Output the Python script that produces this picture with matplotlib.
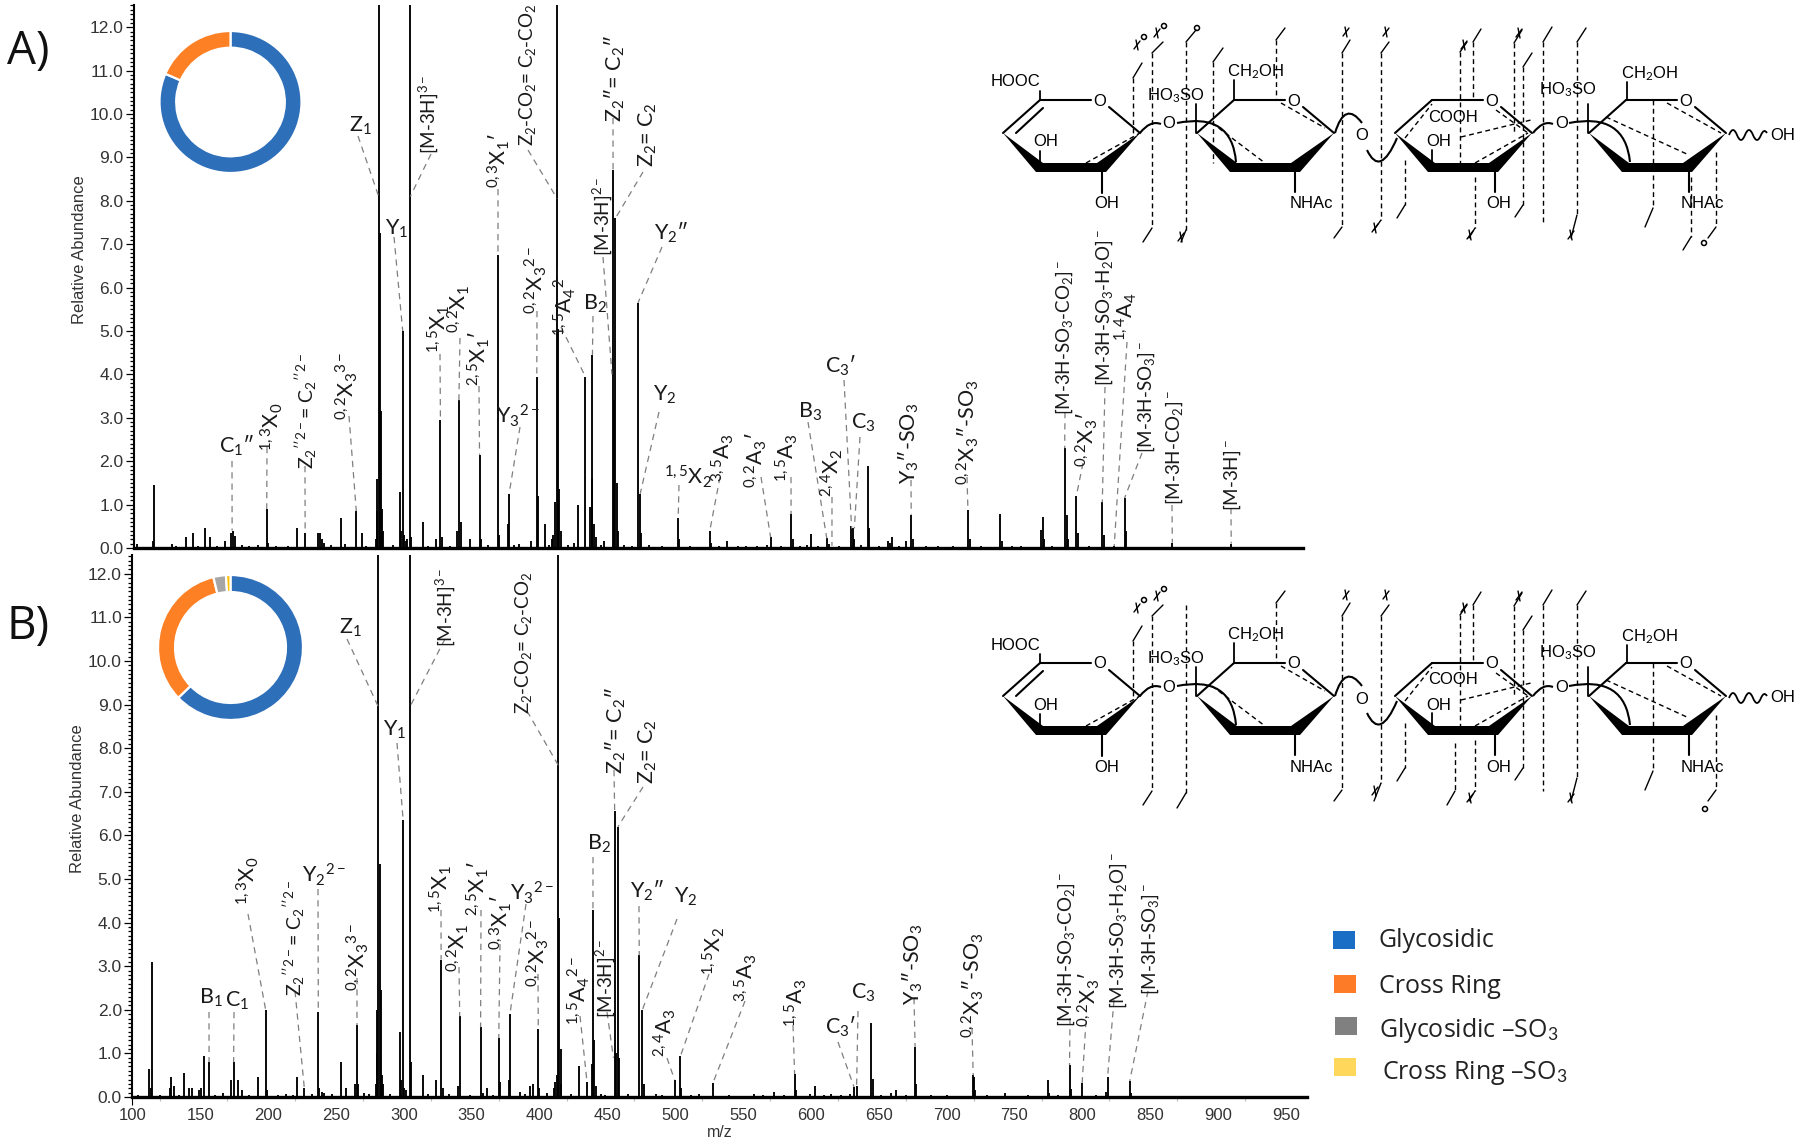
import matplotlib
matplotlib.use("Agg")
import matplotlib.pyplot as plt
from matplotlib.patches import Polygon, PathPatch, Rectangle, Circle
from matplotlib.path import Path
from matplotlib.ticker import MultipleLocator

plt.rcParams['mathtext.fontset'] = 'custom'
plt.rcParams['mathtext.rm'] = 'Lato'
plt.rcParams['mathtext.it'] = 'Lato:italic'
plt.rcParams['mathtext.bf'] = 'Lato:bold'
plt.rcParams['mathtext.default'] = 'rm'

W, H = 1800, 1144

# spectrum A, off-scale peaks get a nominal height (they are cut by the axis)
a_mz = [103.5, 116, 115.3, 129, 139.3, 144.5, 153.3, 157.4, 168.5, 172.8, 174.3, 175.7, 192.3, 199, 199.6, 221.5, 227.3,
        237, 238.4, 240, 241.3, 253.5, 257, 265, 269.2, 279.5, 280, 280.6, 281.5, 282.6, 283.2, 284, 284.8, 297.2, 298.2, 299.2,
        300.4, 301.8, 302.5, 304.8, 305.5, 313.8, 323.7, 327, 327.8, 339.4, 340.6, 341.8, 348.5, 355.8, 356.6, 369.4, 370.1, 376.7,
        377.6, 385, 394, 398, 399, 404, 409.5, 410.2, 411.7, 412.9, 413.7, 414.6, 415.5, 425.4, 428.6, 433.8, 437.3, 438.5,
        439, 440.5, 441.3, 447.5, 454.2, 455, 455.9, 456.8, 458.2, 472.6, 474.2, 475, 490, 502.2, 503, 525.5, 526.5, 538.3,
        552, 568, 570.3, 585.4, 586.5, 597, 600.2, 611.7, 613, 629.8, 631, 632, 642, 642.6, 656.8, 658, 660,
        670.3, 673.9, 675, 715.7, 717, 739.3, 740.5, 769.6, 771.2, 772, 787, 788.4, 789.5, 795.6, 796.6, 814.7,
        815.7, 823.5, 831.1, 832, 866.3, 909.7, 132, 148, 162, 181, 186, 206, 215, 246, 272, 292, 318, 334, 362, 381, 407,
        421, 445, 462, 468, 481, 511, 532, 546, 560, 578, 592, 605, 621, 637, 650, 665, 685, 694, 705, 725, 748, 755, 778, 805, 845, 875]
a_h = [0.1, 1.45, 0.15, 0.1, 0.25, 0.35, 0.45, 0.25, 0.15, 0.35, 0.4, 0.28, 0.07, 0.9, 0.12, 0.45, 0.35,
       0.35, 0.35, 0.2, 0.12, 0.7, 0.1, 0.85, 0.35, 0.2, 0.85, 1.6, 60, 7.25, 3.15, 0.9, 0.4, 1.3, 0.4, 5.0,
       0.3, 0.15, 0.2, 100, 0.25, 0.6, 0.2, 2.95, 0.25, 0.4, 3.4, 0.6, 0.2, 2.15, 0.2, 6.75, 0.3, 0.55,
       1.25, 0.1, 0.15, 3.95, 1.2, 0.55, 0.2, 0.3, 1.05, 40, 5.05, 1.35, 0.4, 0.12, 1.0, 3.95, 0.95, 1.6,
       4.45, 0.55, 0.25, 0.15, 8.7, 3.4, 7.6, 1.5, 0.4, 5.65, 1.25, 0.35, 0.05, 0.7, 0.2, 0.4, 0.12, 0.15,
       0.05, 0.08, 0.25, 0.78, 0.2, 0.08, 0.32, 0.22, 0.1, 0.5, 0.45, 0.2, 1.9, 0.45, 0.15, 0.12, 0.25,
       0.15, 0.77, 0.2, 0.87, 0.2, 0.78, 0.15, 0.42, 0.72, 0.2, 2.3, 0.75, 0.2, 1.2, 0.35, 1.05,
       0.3, 0.05, 1.15, 0.4, 0.12, 0.1, 0.04, 0.05, 0.04, 0.06, 0.05, 0.04, 0.04, 0.06, 0.05, 0.07, 0.05, 0.05, 0.06, 0.06, 0.08,
       0.06, 0.08, 0.07, 0.05, 0.06, 0.05, 0.05, 0.04, 0.05, 0.05, 0.05, 0.05, 0.05, 0.06, 0.05, 0.05, 0.05, 0.04, 0.04, 0.04, 0.04, 0.04, 0.05, 0.04, 0.03, 0.03]

# spectrum B
b_mz = [112.5, 113.8, 114.6, 127.7, 128.8, 130.6, 137.9, 141.7, 143.7, 149, 150.4, 152.4, 156.5, 167, 172.5, 174.6,
        177.5, 180.4, 192.6, 198.2, 199, 213.3, 221.5, 226.7, 237, 237.8, 239.8, 241, 253.5, 257.6, 264, 265.5, 266.2,
        270.4, 279.5, 280, 280.6, 281.2, 282.3, 283.2, 284, 284.8, 297.2, 298.2, 299.5, 300.4, 301.5, 304.5, 305.4, 314.4, 323.4, 327.5, 328.6,
        339.7, 341.2, 356.6, 358, 361.6, 370, 370.8, 378.2, 377.6, 385.8, 392.7, 395.4, 399.1, 400, 405.6, 410.5, 411.7,
        412.9, 414, 414.6, 415.5, 416.2, 429.4, 435, 438.5, 439.4, 440.3, 441.5, 448, 455.4, 456.6, 457.8, 458.6, 473.5,
        475.8, 476.8, 485.7, 499.5, 503.8, 504.5, 517.6, 527.8, 558, 572.9, 588, 588.8, 599.2, 602.8, 614.7, 628.8,
        631.8, 633.7, 644.6, 645.6, 659, 662.7, 676.8, 677.8, 688.4, 719.6, 720.2, 721, 743, 774.9, 775.6, 790.6,
        791.5, 799.9, 817.6, 818.6, 835, 836, 862, 104, 120, 134, 161, 186, 207, 218, 232, 247, 274, 290, 318, 333, 349, 366,
        389, 423, 445, 465, 490, 512, 540, 565, 580, 610, 622, 652, 670, 700, 730, 760, 782, 810, 850, 900]
b_h = [0.65, 0.2, 3.1, 0.2, 0.45, 0.25, 0.55, 0.2, 0.2, 0.15, 0.2, 0.95, 0.8, 0.1, 0.4, 0.8,
       0.4, 0.15, 0.45, 2.0, 0.15, 0.08, 0.45, 0.2, 1.95, 0.2, 0.12, 0.1, 0.8, 0.2, 0.3, 1.65, 0.3,
       0.1, 0.3, 1.0, 2.0, 60, 5.35, 2.45, 0.5, 0.3, 1.5, 0.4, 6.35, 0.2, 0.15, 100, 0.8, 0.5, 0.4, 3.15, 0.2,
       0.25, 1.85, 1.6, 0.1, 0.2, 1.35, 0.35, 1.9, 0.4, 0.12, 0.25, 0.3, 1.55, 0.2, 0.1, 0.2, 0.35,
       0.5, 40, 4.1, 1.1, 0.3, 0.7, 0.35, 0.75, 4.3, 1.3, 0.25, 0.05, 6.55, 1.0, 6.2, 0.9, 3.25,
       2.0, 0.3, 0.07, 0.4, 0.93, 0.2, 0.08, 0.32, 0.06, 0.12, 0.53, 0.15, 0.06, 0.25, 0.07, 0.06,
       0.23, 0.25, 1.7, 0.42, 0.1, 0.15, 1.15, 0.3, 0.05, 0.5, 0.45, 0.15, 0.1, 0.4, 0.1, 0.73,
       0.18, 0.32, 0.12, 0.45, 0.37, 0.1, 0.03, 0.04, 0.05, 0.05, 0.05, 0.05, 0.05, 0.05, 0.07, 0.06, 0.07, 0.06, 0.06, 0.06, 0.05, 0.05,
       0.06, 0.06, 0.07, 0.06, 0.05, 0.05, 0.05, 0.05, 0.04, 0.05, 0.05, 0.05, 0.05, 0.04, 0.04, 0.04, 0.04, 0.04, 0.03, 0.03]

# peak each label belongs to
a_label_text = ["C$_1$″", "$^{1,3}$X$_0$", "Z$_2{}^{\\prime\\prime 2-}$= C$_2{}^{\\prime\\prime 2-}$", "$^{0,2}$X$_3{}^{3-}$",
                "Z$_1$", "Y$_1$", "[M-3H]$^{3-}$", "$^{1,5}$X$_1$", "$^{0,2}$X$_1$", "$^{2,5}$X$_1$′", "$^{0,3}$X$_1$′",
                "Y$_3{}^{2-}$", "$^{0,2}$X$_3{}^{2-}$", "Z$_2$-CO$_2$= C$_2$-CO$_2$", "$^{1,5}$A$_4{}^{2-}$", "B$_2$",
                "[M-3H]$^{2-}$", "Z$_2$″= C$_2$″", "Z$_2$= C$_2$", "Y$_2$″", "Y$_2$", "$^{1,5}$X$_2$", "$^{3,5}$A$_3$",
                "$^{0,2}$A$_3$′", "$^{1,5}$A$_3$", "B$_3$", "$^{2,4}$X$_2$", "C$_3$′", "C$_3$", "Y$_3$″-SO$_3$",
                "$^{0,2}$X$_3$″-SO$_3$", "[M-3H-SO$_3$-CO$_2$]$^-$", "$^{0,2}$X$_3$′", "[M-3H-SO$_3$-H$_2$O]$^-$",
                "$^{1,4}$A$_4$", "[M-3H-SO$_3$]$^-$", "[M-3H-CO$_2$]$^-$", "[M-3H]$^-$"]
a_label_mz = [173.5, 199, 227.3, 265, 281.5, 299.2, 304.8, 327, 340.6, 355.8, 369.4, 377.6, 398, 413, 433.8, 439,
              453.4, 454.2, 456, 472.6, 474.2, 502.2, 525.5, 570.3, 585.4, 611.7, 615.5, 630, 632, 673.9, 715.7,
              787, 795.6, 814.7, 823.5, 831.1, 866.3, 909.7]
a_label_h = [0.4, 0.9, 0.35, 0.85, 8.1, 5.0, 8.1, 2.95, 3.4, 2.15, 6.75, 1.25, 3.95, 8.05, 3.95, 4.45,
             4.0, 8.7, 7.6, 5.65, 1.25, 0.7, 0.4, 0.25, 0.78, 0.22, 0.05, 0.45, 0.45, 0.77, 0.87,
             2.3, 1.2, 1.05, 0.05, 1.15, 0.12, 0.1]

b_label_text = ["B$_1$", "C$_1$", "$^{1,3}$X$_0$", "Z$_2{}^{\\prime\\prime 2-}$= C$_2{}^{\\prime\\prime 2-}$", "Y$_2{}^{2-}$",
                "$^{0,2}$X$_3{}^{3-}$", "Z$_1$", "Y$_1$", "[M-3H]$^{3-}$", "Z$_2$-CO$_2$= C$_2$-CO$_2$", "$^{1,5}$X$_1$",
                "$^{0,2}$X$_1$", "$^{2,5}$X$_1$′", "$^{0,3}$X$_1$′", "Y$_3{}^{2-}$", "$^{0,2}$X$_3{}^{2-}$", "$^{1,5}$A$_4{}^{2-}$",
                "[M-3H]$^{2-}$", "B$_2$", "Z$_2$″= C$_2$″", "Z$_2$= C$_2$", "Y$_2$″", "Y$_2$", "$^{2,4}$A$_3$",
                "$^{1,5}$X$_2$", "$^{3,5}$A$_3$", "$^{1,5}$A$_3$", "C$_3$′", "C$_3$", "Y$_3$″-SO$_3$",
                "$^{0,2}$X$_3$″-SO$_3$", "[M-3H-SO$_3$-CO$_2$]$^-$", "$^{0,2}$X$_3$′", "[M-3H-SO$_3$-H$_2$O]$^-$",
                "[M-3H-SO$_3$]$^-$"]
b_label_mz = [156.5, 174.6, 198.2, 226.7, 237, 265.5, 281.2, 299.5, 304.5, 414, 327.5, 341.2, 356.6, 370, 378.2,
              399.1, 435, 454.5, 439.4, 455.4, 457.8, 473.5, 475.8, 499.5, 503.8, 527.8, 588, 631.8, 633.7, 676.8,
              719.6, 790.6, 799.9, 818.6, 835]
b_label_h = [0.8, 0.8, 2.0, 0.2, 1.95, 1.65, 8.95, 6.35, 8.95, 7.6, 3.15, 1.85, 1.6, 1.35, 1.9,
             1.55, 0.35, 0.9, 4.3, 6.55, 6.2, 3.25, 2.0, 0.4, 0.93, 0.32, 0.53, 0.23, 0.25, 1.15,
             0.5, 0.73, 0.32, 0.45, 0.37]

# donut shares
a_pie = [81.5, 18.5]
a_pie_colors = ['#2e6fba', '#fd8024']
b_pie = [62.8, 33.4, 2.8, 1.0]
b_pie_colors = ['#2e6fba', '#fd8024', '#a6a6a6', '#ffc000']

legend_names = ["Glycosidic", "Cross Ring", "Glycosidic –SO$_3$", "Cross Ring –SO$_3$"]
legend_colors = ['#1b6ec6', '#fd7b27', '#808080', '#ffd75a']

# layout of label text: centre x, centre y, rotation, leader start x, leader start y (pixels)
a_label_pos = [(237, 446, 0, 232, 461), (272, 427, 90, 267, 447), (306, 411, 90, 305, 466), (347, 386, 90, 349, 416),
               (360, 126, 0, 358, 136), (397, 229, 0, 394, 237), (428, 114, 90, 431, 154), (439, 329, 90, 440, 354),
               (459, 309, 90, 460, 338), (479, 359, 90, 479, 386), (499, 161, 90, 498, 189), (518, 416, 0, 520, 427),
               (536, 280, 90, 537, 311), (528, 75, 90, 528, 150), (565, 302, 90, 561, 327), (595, 304, 0, 593, 316),
               (602, 216, 90, 603, 257), (615, 78, 90, 613, 118), (648, 135, 90, 643, 172), (671, 233, 0, 662, 247),
               (665, 395, 0, 659, 412), (688, 477, 0, 679, 485), (723, 458, 90, 720, 477), (756, 460, 90, 761, 477),
               (787, 458, 90, 791, 477), (810, 412, 0, 808, 422), (832, 473, 90, 832, 497), (841, 366, 0, 844, 380),
               (863, 423, 0, 860, 437), (909, 443, 90, 911, 480), (968, 432, 90, 967, 477), (1064, 337, 90, 1065, 412),
               (1087, 440, 90, 1083, 463), (1104, 308, 90, 1105, 387), (1126, 317, 90, 1127, 342),
               (1146, 397, 90, 1142, 453), (1174, 448, 90, 1172, 505), (1232, 475, 90, 1231, 508)]
b_label_pos = [(211, 998, 0, 209, 1012), (237, 1001, 0, 234, 1012), (248, 881, 90, 248, 914), (294, 938, 90, 295, 991),
               (324, 875, 0, 318, 889), (358, 957, 90, 357, 978), (350, 628, 0, 347, 639), (395, 730, 0, 397, 743),
               (445, 607, 90, 445, 639), (524, 643, 90, 527, 711), (441, 889, 90, 441, 910), (458, 948, 90, 459, 967),
               (478, 889, 90, 481, 910), (501, 923, 90, 500, 944), (532, 893, 0, 526, 904), (538, 953, 90, 538, 974),
               (579, 991, 90, 580, 1016), (605, 978, 90, 607, 1012), (599, 844, 0, 593, 857), (616, 730, 90, 614, 770),
               (648, 752, 90, 643, 787), (647, 891, 0, 639, 906), (686, 897, 0, 677, 919), (665, 1033, 90, 667, 1058),
               (714, 951, 90, 709, 974), (746, 978, 90, 745, 1001), (796, 1003, 90, 793, 1025), (841, 1027, 0, 838, 1042),
               (863, 993, 0, 858, 1011), (913, 964, 90, 914, 998), (973, 985, 90, 972, 1028), (1066, 949, 90, 1070, 1018),
               (1089, 1000, 90, 1086, 1021), (1118, 931, 90, 1114, 1000), (1150, 939, 90, 1148, 991)]

# cleavage lines of the structure: x, y top, y bottom, top tick end, bottom tick end (pixels, panel A frame)
a_cuts = [(1133, 78, 133, (1142, 63), None), (1152, 53, 228, (1163, 42), (1143, 242)),
          (1186, 42, 230, (1196, 30), (1181, 242)), (1213, 62, 163, (1223, 48), None), (1276, 40, 100, (1285, 28), None),
          (1342, 53, 227, (1350, 40), (1334, 238)), (1381, 53, 220, (1389, 42), (1374, 230)),
          (1405, 160, 205, None, (1397, 218)), (1460, 52, 163, (1467, 42), None), (1473, 42, 100, (1481, 29), None),
          (1475, 177, 228, None, (1469, 238)), (1514, 43, 133, (1522, 30), None), (1523, 67, 205, (1532, 53), (1515, 217)),
          (1543, 42, 225, (1552, 27), None), (1577, 42, 215, (1586, 28), (1571, 238)),
          (1653, 100, 208, None, (1645, 227)), (1691, 177, 237, None, (1683, 250)), (1716, 152, 227, None, (1708, 238))]
a_circles = [(1144, 37), (1164, 26), (1197, 28), (1704, 243)]
a_crosses = [(1137, 45), (1157, 33), (1181, 237), (1346, 32), (1386, 32), (1375, 228), (1464, 45), (1470, 235),
             (1519, 33), (1571, 235)]
b_cuts = [(1133, 78, 133, (1142, 63), None), (1152, 53, 228, (1163, 42), (1143, 242)),
          (1186, 42, 230, None, (1177, 245)), (1276, 40, 100, (1285, 28), None),
          (1342, 53, 227, (1350, 40), (1334, 238)), (1381, 53, 220, (1389, 42), (1374, 238)),
          (1405, 160, 205, None, (1397, 218)), (1460, 52, 163, (1467, 42), None), (1455, 180, 228, None, (1447, 242)),
          (1473, 42, 100, (1481, 29), None), (1475, 177, 228, None, (1469, 238)), (1514, 43, 133, (1522, 30), None),
          (1523, 67, 205, (1532, 53), (1515, 217)), (1543, 42, 228, (1552, 27), None),
          (1577, 42, 215, (1586, 28), (1571, 238)), (1653, 100, 208, None, (1645, 227)),
          (1716, 152, 227, None, (1708, 238))]
b_circles = [(1144, 37), (1164, 26), (1705, 246)]
b_crosses = [(1137, 45), (1157, 33), (1346, 32), (1386, 32), (1375, 228), (1464, 45), (1470, 235), (1519, 33), (1571, 235)]


def px_axes(x0, y0, x1, y1, **kw):
    return fig.add_axes([x0 / W, 1 - y1 / H, (x1 - x0) / W, (y1 - y0) / H], **kw)


def draw_spectrum(ax, mz, h):
    ax.vlines(mz, 0, h, color='black', linewidth=1.35)
    for s in ['top', 'right']:
        ax.spines[s].set_visible(False)
    ax.spines['left'].set_linewidth(1.5)
    ax.spines['bottom'].set_linewidth(2.4)
    ax.yaxis.set_major_locator(MultipleLocator(1))
    ax.yaxis.set_minor_locator(MultipleLocator(0.1))
    ax.tick_params(axis='y', which='major', length=6, width=0.9, pad=1.5, labelsize=12.5, labelcolor='#333333')
    ax.tick_params(axis='y', which='minor', length=3, width=0.9)
    ax.set_yticks([i for i in range(13)])
    ax.set_yticklabels([f"{i}.0" for i in range(13)], fontfamily='Liberation Sans')
    for lbl in ax.get_yticklabels():
        lbl.set_verticalalignment('center_baseline')
    ax.set_ylabel("Relative Abundance", fontfamily='Liberation Sans', fontsize=12, color='#333333')
    ax.yaxis.set_label_coords(-47 / ax.get_window_extent().width, 0.55)


def draw_labels(ax, texts, mz, h, pos):
    for t, m, v, (x, y, rot, lx, ly) in zip(texts, mz, h, pos):
        tip = overlay.transData.inverted().transform(ax.transData.transform((m, v)))
        overlay.plot([lx, tip[0]], [ly, tip[1]], color='#7f7f7f', linewidth=0.9, linestyle=(0, (5, 4)))
        # the long formulas have to stay smaller or they run into the top of the figure
        size = 13.5 if t.startswith('[') or 'CO$_2$=' in t else 15.5
        if '2-}$= C' in t:
            size = 14
        overlay.text(x, y, t, rotation=rot, ha='center', va='center', fontsize=size, color='#1a1a1a', family='Lato')


def curve(pts, dy, lw=1.5):
    # pts: start, ctrl, end, ctrl, end ...
    codes = [Path.MOVETO] + [Path.CURVE3] * (len(pts) - 1)
    verts = [(x, y + dy) for x, y in pts]
    overlay.add_patch(PathPatch(Path(verts, codes), fill=False, edgecolor='black', linewidth=lw))


def seg(x0, y0, x1, y1, dy, lw=1.3, ls='-'):
    overlay.plot([x0, x1], [y0 + dy, y1 + dy], color='black', linewidth=lw, linestyle=ls, solid_capstyle='round')


def chem(x, y, s, dy):
    overlay.text(x, y + dy, s, ha='center', va='center', fontsize=12, family='Liberation Sans', color='black')


def draw_ring(x0, dy):
    overlay.add_patch(Polygon([(x0, 133 + dy), (x0 + 40, 163 + dy), (x0 + 94, 163 + dy), (x0 + 137, 133 + dy),
                               (x0 + 103, 172 + dy), (x0 + 33, 172 + dy)], closed=True, color='black', linewidth=0))
    seg(x0, 133, x0 + 37, 100, dy, lw=1.5)
    seg(x0 + 37, 100, x0 + 88, 100, dy, lw=1.5)
    seg(x0 + 106, 107, x0 + 137, 133, dy, lw=1.5)
    chem(x0 + 97, 101, "O", dy)


def draw_structure(dy, cuts, circles, crosses):
    for x0 in [1003, 1197, 1395, 1589]:
        draw_ring(x0, dy)
    # double bond and substituents
    seg(1016, 133, 1043, 108, dy, lw=1.5)
    seg(1040, 100, 1040, 91, dy)
    chem(1015, 82, "HOOC", dy)
    seg(1040, 163, 1040, 151, dy)
    chem(1046, 142, "OH", dy)
    seg(1102, 172, 1102, 193, dy, lw=1.5)
    chem(1107, 204, "OH", dy)
    chem(1169, 124, "O", dy)
    curve([(1140, 133), (1150, 120), (1161, 124)], dy)
    chem(1176, 96, "HO$_3$SO", dy)
    seg(1196, 104, 1196, 133, dy)
    curve([(1177, 123), (1232, 112), (1236, 162)], dy)
    seg(1234, 100, 1234, 80, dy)
    chem(1255, 72, "CH$_2$OH", dy)
    seg(1295, 172, 1295, 192, dy, lw=1.5)
    chem(1311, 204, "NHAc", dy)
    curve([(1335, 133), (1345, 100), (1362, 123)], dy)
    chem(1362, 136, "O", dy)
    curve([(1367, 150), (1380, 178), (1397, 138)], dy)
    chem(1453, 117, "COOH", dy)
    chem(1439, 142, "OH", dy)
    seg(1432, 163, 1432, 150, dy)
    seg(1495, 172, 1495, 192, dy, lw=1.5)
    chem(1499, 204, "OH", dy)
    curve([(1533, 133), (1543, 120), (1553, 124)], dy)
    chem(1562, 124, "O", dy)
    chem(1568, 90, "HO$_3$SO", dy)
    seg(1588, 104, 1588, 133, dy)
    curve([(1569, 123), (1625, 112), (1630, 162)], dy)
    seg(1627, 100, 1627, 82, dy)
    chem(1649, 74, "CH$_2$OH", dy)
    seg(1689, 172, 1689, 192, dy, lw=1.5)
    chem(1702, 204, "NHAc", dy)
    curve([(1729, 135), (1733, 125), (1737, 135), (1741, 145), (1745, 135), (1749, 125), (1753, 135),
           (1757, 145), (1761, 135), (1764, 128), (1767, 133)], dy, lw=1.3)
    chem(1783, 135, "OH", dy)
    # dashed bonds inside the rings
    dash = (0, (3.5, 2.5))
    for x0, y0, x1, y1 in [(1086, 163, 1140, 133), (1212, 123, 1265, 163), (1281, 103, 1325, 128),
                           (1405, 138, 1432, 104), (1461, 137, 1531, 120), (1475, 163, 1528, 133),
                           (1496, 110, 1528, 133), (1606, 117, 1689, 155), (1667, 103, 1721, 133)]:
        seg(x0, y0, x1, y1, dy, lw=1.0, ls=dash)
    # cleavage marks
    for x, ytop, ybot, ttop, tbot in cuts:
        seg(x, ytop, x, ybot, dy, lw=1.0, ls=(0, (3.5, 2.5)))
        if ttop:
            seg(x, ytop, ttop[0], ttop[1], dy, lw=1.0)
        if tbot:
            seg(x, ybot, tbot[0], tbot[1], dy, lw=1.0)
    for x, y in crosses:
        seg(x - 3, y + 4, x + 3, y - 4, dy, lw=1.0)
        seg(x - 1, y - 5, x + 1, y + 5, dy, lw=1.0)
    for x, y in circles:
        overlay.add_patch(Circle((x, y + dy), 2.5, fill=False, edgecolor='black', linewidth=1.1))


fig = plt.figure(figsize=(W / 100, H / 100), dpi=100)

# panel A spectrum
ax_a = px_axes(134, 5, 1303, 548)
ax_a.set_xlim(101.2, 962.6)
ax_a.set_ylim(0, 543 / 43.4)
draw_spectrum(ax_a, a_mz, a_h)
ax_a.set_xticks([])

# panel B spectrum
ax_b = px_axes(132.4, 555, 1307, 1097)
ax_b.set_xlim(100, 965.6)
ax_b.set_ylim(0, 542 / 43.6)
draw_spectrum(ax_b, b_mz, b_h)
ax_b.set_xticks(range(100, 951, 50))
ax_b.set_xticklabels([str(v) for v in range(100, 951, 50)], fontfamily='Liberation Sans', fontsize=12, color='#333333')
ax_b.set_xticks(range(120, 951, 50), minor=True)
ax_b.tick_params(axis='x', which='major', length=0, pad=8)
ax_b.tick_params(axis='x', which='minor', length=3, width=0.8, color='#bbbbbb')
ax_b.xaxis.get_major_ticks()[0].tick1line.set_markersize(6)
ax_b.set_xlabel("m/z", fontfamily='Liberation Sans', fontsize=11.5, color='#333333')
ax_b.xaxis.set_label_coords((720 - 132.4) / (1307 - 132.4), -28 / 542)

# donuts
for box, vals, cols in [((159, 31, 302, 173), a_pie, a_pie_colors), ((157, 575, 304, 720), b_pie, b_pie_colors)]:
    ax_p = px_axes(*box)
    ax_p.pie(vals, colors=cols, startangle=90, counterclock=False, radius=1,
             wedgeprops=dict(width=0.235, edgecolor='white', linewidth=1.6))
    ax_p.set_xlim(-1, 1)
    ax_p.set_ylim(-1, 1)
    ax_p.set_zorder(5)

# everything placed by pixel goes on this overlay
overlay = fig.add_axes([0, 0, 1, 1], zorder=4)
overlay.set_xlim(0, W)
overlay.set_ylim(H, 0)
overlay.axis('off')
overlay.patch.set_alpha(0)

draw_labels(ax_a, a_label_text, a_label_mz, a_label_h, a_label_pos)
draw_labels(ax_b, b_label_text, b_label_mz, b_label_h, b_label_pos)

draw_structure(0, a_cuts, a_circles, a_crosses)
draw_structure(563, b_cuts, b_circles, b_crosses)

overlay.text(28, 52, "A)", ha='center', va='center', fontsize=33, family='Open Sans', color='#111111')
overlay.text(28, 627, "B)", ha='center', va='center', fontsize=33, family='Open Sans', color='#111111')

# legend
leg_y = [939.5, 983.5, 1025.5, 1067]
leg_x = [1333, 1334, 1335, 1334]
txt_x = [1378, 1379, 1379, 1382]
txt_base = [947, 993, 1037, 1079]
for name, col, y, sx, tx, by in zip(legend_names, legend_colors, leg_y, leg_x, txt_x, txt_base):
    overlay.add_patch(Rectangle((sx, y - 9), 22, 18, color=col, linewidth=0))
    overlay.text(tx, by, name, ha='left', va='baseline', fontsize=18, family='Open Sans', color='#222222')

fig.savefig("out.png", dpi=100, facecolor='white')
